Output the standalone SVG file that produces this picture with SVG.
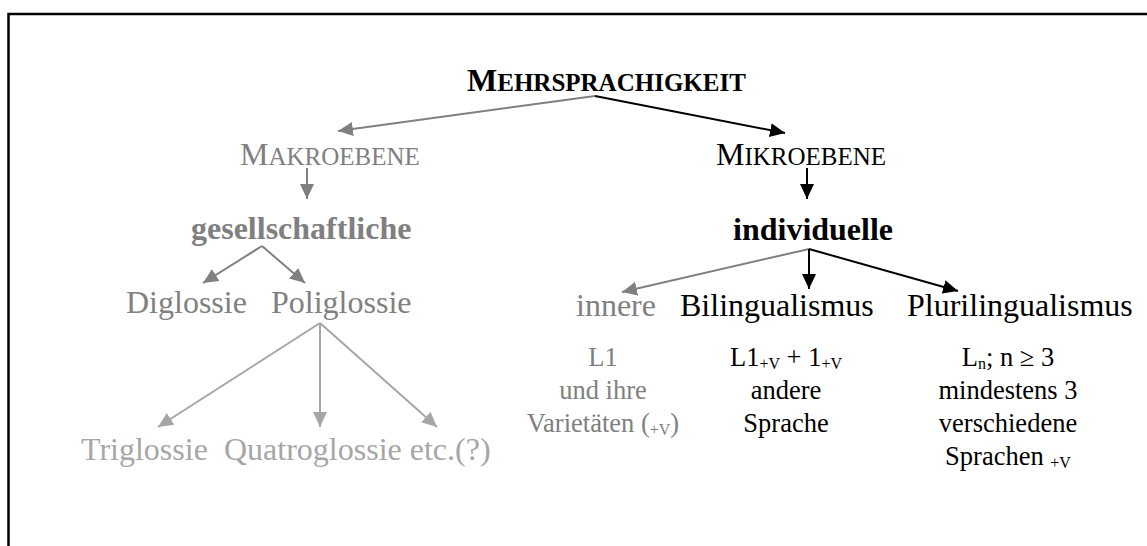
<svg xmlns="http://www.w3.org/2000/svg" width="1147" height="546" viewBox="0 0 1147 546">
<style>
text{font-family:"Liberation Serif","Times New Roman",serif;}
.lbl{font-size:32px;}
.b{font-weight:bold;}
.sub{font-size:26.5px;}
.k{fill:#000;}
.g{fill:#808080;}
.lg{fill:#a6a6a6;}
.ck{stroke:#000;stroke-width:2;fill:none;}
.cg{stroke:#808080;stroke-width:2;fill:none;}
.clg{stroke:#a6a6a6;stroke-width:2;fill:none;}
</style>
<defs>
<marker id="ak" markerUnits="userSpaceOnUse" markerWidth="16" markerHeight="14" refX="15" refY="7" orient="auto"><path d="M0,0 L15,7 L0,14 Z" fill="#000"/></marker>
<marker id="ag" markerUnits="userSpaceOnUse" markerWidth="16" markerHeight="14" refX="15" refY="7" orient="auto"><path d="M0,0 L15,7 L0,14 Z" fill="#808080"/></marker>
<marker id="alg" markerUnits="userSpaceOnUse" markerWidth="16" markerHeight="14" refX="15" refY="7" orient="auto"><path d="M0,0 L15,7 L0,14 Z" fill="#a6a6a6"/></marker>
</defs>
<rect width="1147" height="546" fill="#fff"/>
<path d="M8.5,546 V14 H1147" stroke="#000" stroke-width="2.5" fill="none"/>

<g id="connectors">
<line class="cg" x1="595" y1="96" x2="338" y2="131" marker-end="url(#ag)"/>
<line class="ck" x1="595" y1="96" x2="785" y2="133" marker-end="url(#ak)"/>
<line class="cg" x1="307" y1="168" x2="307" y2="199" marker-end="url(#ag)"/>
<line class="ck" x1="807" y1="168" x2="807" y2="199" marker-end="url(#ak)"/>
<line class="cg" x1="262" y1="246" x2="203" y2="283" marker-end="url(#ag)"/>
<line class="cg" x1="262" y1="246" x2="305" y2="283" marker-end="url(#ag)"/>
<line class="clg" x1="320" y1="323" x2="158" y2="427" marker-end="url(#alg)"/>
<line class="clg" x1="320" y1="323" x2="320" y2="427" marker-end="url(#alg)"/>
<line class="clg" x1="320" y1="323" x2="437" y2="427" marker-end="url(#alg)"/>
<line class="cg" x1="809" y1="249" x2="622" y2="292" marker-end="url(#ag)"/>
<line class="ck" x1="809" y1="249" x2="809" y2="289" marker-end="url(#ak)"/>
<line class="ck" x1="809" y1="249" x2="958" y2="291" marker-end="url(#ak)"/>
</g>

<g id="mehrsprachigkeit"><text class="b k" x="467" y="91" font-size="32">M<tspan font-size="25">EHRSPRACHIGKEIT</tspan></text></g>
<g id="makroebene"><text class="g" x="240" y="165" font-size="32">M<tspan font-size="25">AKROEBENE</tspan></text></g>
<g id="mikroebene"><text class="k" x="716" y="165" font-size="32">M<tspan font-size="25">IKROEBENE</tspan></text></g>
<g id="gesellschaftliche"><text class="lbl b g" x="191" y="239">gesellschaftliche</text></g>
<g id="individuelle"><text class="lbl b k" x="733" y="240">individuelle</text></g>
<g id="diglossie"><text class="lbl g" x="126" y="313">Diglossie</text></g>
<g id="poliglossie"><text class="lbl g" x="271" y="313">Poliglossie</text></g>
<g id="triglossie"><text class="lbl lg" x="81" y="460">Triglossie</text></g>
<g id="quatroglossie"><text class="lbl lg" x="224" y="460">Quatroglossie etc.(?)</text></g>
<g id="innere"><text class="lbl g" x="576" y="316">innere</text>
<text class="sub g" text-anchor="middle" x="603" y="366">L1</text>
<text class="sub g" text-anchor="middle" x="603" y="399">und ihre</text>
<text class="sub g" text-anchor="middle" x="603" y="432">Varietäten (<tspan font-size="16" dy="3">+V</tspan><tspan dy="-3">)</tspan></text></g>
<g id="bilingualismus"><text class="lbl k" x="680" y="316">Bilingualismus</text>
<text class="sub k" text-anchor="middle" x="786" y="366">L1<tspan font-size="16" dy="3">+V</tspan><tspan dy="-3"> + 1</tspan><tspan font-size="16" dy="3">+V</tspan></text>
<text class="sub k" text-anchor="middle" x="786" y="399">andere</text>
<text class="sub k" text-anchor="middle" x="786" y="432">Sprache</text></g>
<g id="plurilingualismus"><text class="lbl k" x="907" y="316">Plurilingualismus</text>
<text class="sub k" text-anchor="middle" x="1008" y="366">L<tspan font-size="16" dy="3">n</tspan><tspan dy="-3">; n ≥ 3</tspan></text>
<text class="sub k" text-anchor="middle" x="1008" y="399">mindestens 3</text>
<text class="sub k" text-anchor="middle" x="1008" y="432">verschiedene</text>
<text class="sub k" text-anchor="middle" x="1008" y="465">Sprachen <tspan font-size="16" dy="3">+V</tspan></text></g>
</svg>
